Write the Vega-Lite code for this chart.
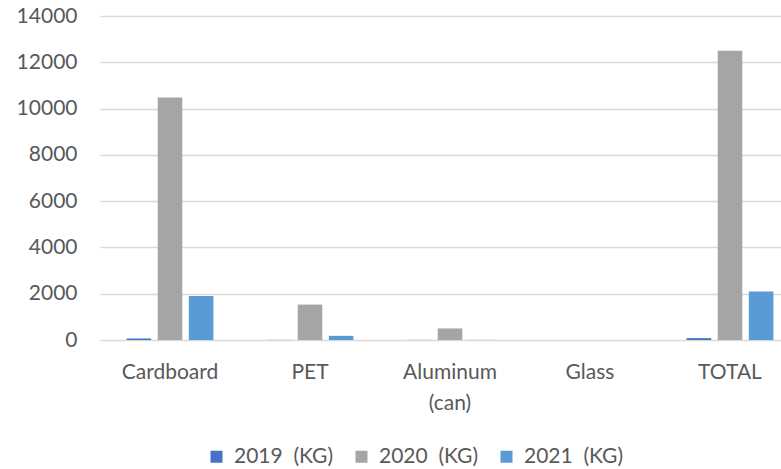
{
  "$schema": "https://vega.github.io/schema/vega-lite/v6.json",
  "width": 681,
  "height": 324,
  "autosize": "none",
  "padding": {"left": 100, "top": 16, "right": 0, "bottom": 129},
  "background": "white",
  "config": {
    "view": {"stroke": null},
    "font": "Lato",
    "axis": {"labelFont": "Lato", "labelFontSize": 21, "labelColor": "#595959", "gridColor": "#D9D9D9", "gridWidth": 1.3},
    "legend": {"labelFont": "Lato", "labelFontSize": 21, "labelColor": "#595959"}
  },
  "data": {
    "values": [
      {"category": "Cardboard", "series": "2019\u00a0\u00a0(KG)", "value": 70},
      {"category": "Cardboard", "series": "2020\u00a0\u00a0(KG)", "value": 10480},
      {"category": "Cardboard", "series": "2021\u00a0\u00a0(KG)", "value": 1900},
      {"category": "PET", "series": "2019\u00a0\u00a0(KG)", "value": 5},
      {"category": "PET", "series": "2020\u00a0\u00a0(KG)", "value": 1530},
      {"category": "PET", "series": "2021\u00a0\u00a0(KG)", "value": 180},
      {"category": "Aluminum (can)", "series": "2019\u00a0\u00a0(KG)", "value": 5},
      {"category": "Aluminum (can)", "series": "2020\u00a0\u00a0(KG)", "value": 500},
      {"category": "Aluminum (can)", "series": "2021\u00a0\u00a0(KG)", "value": 5},
      {"category": "Glass", "series": "2019\u00a0\u00a0(KG)", "value": 0},
      {"category": "Glass", "series": "2020\u00a0\u00a0(KG)", "value": 0},
      {"category": "Glass", "series": "2021\u00a0\u00a0(KG)", "value": 0},
      {"category": "TOTAL", "series": "2019\u00a0\u00a0(KG)", "value": 80},
      {"category": "TOTAL", "series": "2020\u00a0\u00a0(KG)", "value": 12500},
      {"category": "TOTAL", "series": "2021\u00a0\u00a0(KG)", "value": 2100}
    ]
  },
  "mark": {"type": "bar"},
  "encoding": {
    "x": {
      "field": "category",
      "type": "nominal",
      "sort": ["Cardboard", "PET", "Aluminum (can)", "Glass", "TOTAL"],
      "scale": {"range": [0, 700], "paddingInner": 0.38, "paddingOuter": 0.19},
      "axis": {
        "title": null,
        "labelAngle": 0,
        "ticks": false,
        "domain": false,
        "labelPadding": 21,
        "labelLineHeight": 31,
        "labelBaseline": "top",
        "labelExpr": "datum.value == 'Aluminum (can)' ? ['Aluminum', '(can)'] : datum.label"
      }
    },
    "xOffset": {
      "field": "series",
      "type": "nominal",
      "scale": {"paddingInner": 0.21, "paddingOuter": 0}
    },
    "y": {
      "field": "value",
      "type": "quantitative",
      "scale": {"domain": [0, 14000], "nice": false},
      "axis": {
        "title": null,
        "values": [0, 2000, 4000, 6000, 8000, 10000, 12000, 14000],
        "format": "d",
        "ticks": false,
        "domain": false,
        "labelPadding": 23
      }
    },
    "color": {
      "field": "series",
      "type": "nominal",
      "scale": {"range": ["#4472C4", "#A5A5A5", "#5B9BD5"]},
      "legend": {
        "title": null,
        "orient": "none",
        "direction": "horizontal",
        "legendX": 106,
        "legendY": 430,
        "symbolType": "square",
        "symbolSize": 144,
        "symbolStrokeWidth": 0,
        "labelOffset": 7,
        "columnPadding": 17
      }
    }
  }
}
